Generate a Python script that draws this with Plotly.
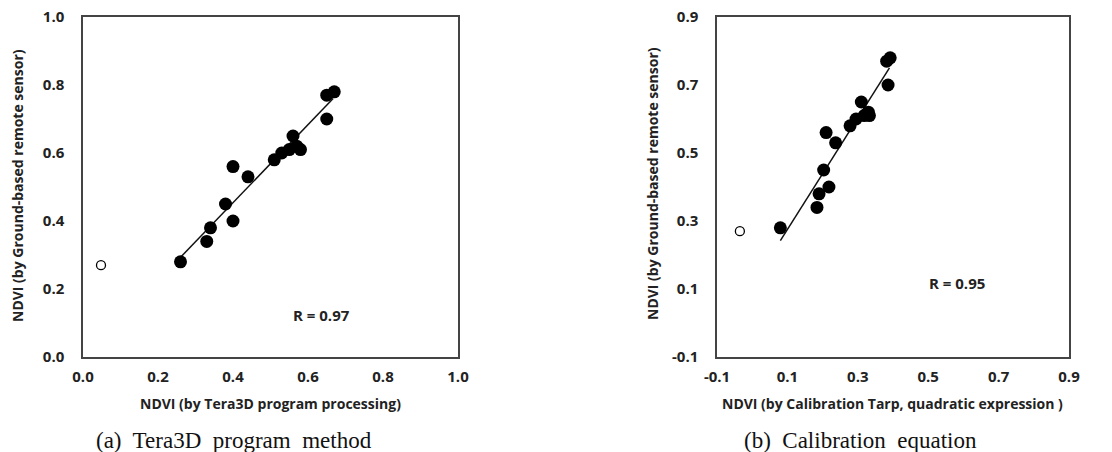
import plotly.graph_objects as go

# Shared ground-based sensor NDVI values (y)
ndvi_ground = [0.28, 0.34, 0.38, 0.45, 0.40, 0.56, 0.53, 0.58, 0.60, 0.61, 0.65, 0.62, 0.61, 0.70, 0.77, 0.78]
# (a) Tera3D program processing (x)
ndvi_tera3d = [0.26, 0.33, 0.34, 0.38, 0.40, 0.40, 0.44, 0.51, 0.53, 0.55, 0.56, 0.57, 0.58, 0.65, 0.65, 0.67]
# (b) Calibration tarp, quadratic expression (x)
ndvi_calib = [0.08, 0.184, 0.19, 0.203, 0.218, 0.21, 0.237, 0.278, 0.295, 0.318, 0.31, 0.33, 0.333, 0.386, 0.382, 0.392]

# Outliers (open circles)
outlier_a = (0.048, 0.27)
outlier_b = (-0.035, 0.27)

# Fitted line coefficients (slope, intercept)
fit_a = (1.147, -0.005)
fit_a_range = (0.26, 0.667)
fit_b = (1.64, 0.111)
fit_b_range = (0.08, 0.39)

r_a = "R = 0.97"
r_b = "R = 0.95"

caption_a = "(a)  Tera3D  program  method"
caption_b = "(b)  Calibration  equation"

xtitle_a = "NDVI (by Tera3D program processing)"
xtitle_b = "NDVI (by Calibration Tarp, quadratic expression )"
ytitle = "NDVI (by Ground-based remote sensor)"

ticks_a = [0.0, 0.2, 0.4, 0.6, 0.8, 1.0]
ticks_b = [-0.1, 0.1, 0.3, 0.5, 0.7, 0.9]

W, H = 1112, 452
txt = "#222222"
font_b = "Open Sans"

fig = go.Figure()

# Panel (a)
fig.add_trace(go.Scatter(x=list(fit_a_range), y=[fit_a[0] * v + fit_a[1] for v in fit_a_range],
                         mode="lines", line=dict(color="#111111", width=1.5),
                         xaxis="x", yaxis="y", showlegend=False))
fig.add_trace(go.Scatter(x=ndvi_tera3d, y=ndvi_ground, mode="markers",
                         marker=dict(size=13, color="black"),
                         xaxis="x", yaxis="y", showlegend=False))
fig.add_trace(go.Scatter(x=[outlier_a[0]], y=[outlier_a[1]], mode="markers",
                         marker=dict(size=9, color="white", line=dict(color="black", width=1.3)),
                         xaxis="x", yaxis="y", showlegend=False))

# Panel (b)
fig.add_trace(go.Scatter(x=list(fit_b_range), y=[fit_b[0] * v + fit_b[1] for v in fit_b_range],
                         mode="lines", line=dict(color="#111111", width=1.5),
                         xaxis="x2", yaxis="y2", showlegend=False))
fig.add_trace(go.Scatter(x=ndvi_calib, y=ndvi_ground, mode="markers",
                         marker=dict(size=13, color="black"),
                         xaxis="x2", yaxis="y2", showlegend=False))
fig.add_trace(go.Scatter(x=[outlier_b[0]], y=[outlier_b[1]], mode="markers",
                         marker=dict(size=9, color="white", line=dict(color="black", width=1.3)),
                         xaxis="x2", yaxis="y2", showlegend=False))

ax_common = dict(showgrid=False, zeroline=False, showline=True, linecolor="#444444",
                 linewidth=1.5, mirror=True, ticks="", ticklen=0, automargin=False,
                 tickfont=dict(family=font_b, size=15, color=txt, weight="bold"))

yd = [1 - 357 / H, 1 - 17 / H]

fig.update_layout(
    width=W, height=H, margin=dict(l=0, r=0, t=0, b=0),
    paper_bgcolor="white", plot_bgcolor="white", hovermode=False,
    xaxis=dict(domain=[83 / W, 458 / W], range=[0, 1.0], tickvals=ticks_a,
               ticktext=[f"{v:.1f}" for v in ticks_a], anchor="y", **ax_common),
    yaxis=dict(domain=yd, range=[0, 1.0], tickvals=ticks_a,
               ticktext=[f"{v:.1f}" for v in ticks_a], anchor="x", **ax_common),
    xaxis2=dict(domain=[717 / W, 1069 / W], range=[-0.1, 0.9], tickvals=ticks_b,
                ticktext=[f"{v:.1f}" for v in ticks_b], anchor="y2", **ax_common),
    yaxis2=dict(domain=yd, range=[-0.1, 0.9], tickvals=ticks_b,
                ticktext=[f"{v:.1f}" for v in ticks_b], anchor="x2", **ax_common),
)
fig.update_xaxes(ticklabelstandoff=5)
fig.update_yaxes(ticklabelstandoff=14)

ann_font = dict(family=font_b, size=14, color=txt, weight="bold")
r_font = dict(family=font_b, size=15, color=txt, weight="bold")
cap_font = dict(family="Liberation Serif", size=23, color="#111111")

def note(text, x, y, font, xref="paper", yref="paper", angle=0):
    fig.add_annotation(text=text, x=x, y=y, xref=xref, yref=yref, showarrow=False,
                       xanchor="center", yanchor="middle", textangle=angle, font=font)

note(r_a, 0.636, 0.124, r_font, "x", "y")
note(r_b, 0.581, 0.117, r_font, "x2", "y2")

# Axis titles
note(xtitle_a, 270 / W, 1 - 403 / H, ann_font)
note(xtitle_b, 892 / W, 1 - 403 / H, ann_font)
note(ytitle, 17 / W, 1 - 186 / H, ann_font, angle=-90)
note(ytitle, 653 / W, 1 - 184 / H, ann_font, angle=-90)

# Captions
note(caption_a, 234 / W, 1 - 440 / H, cap_font)
note(caption_b, 860 / W, 1 - 440 / H, cap_font)

fig.write_html("out.html", config={"displayModeBar": False},
               post_script="document.body.style.margin='0';")
